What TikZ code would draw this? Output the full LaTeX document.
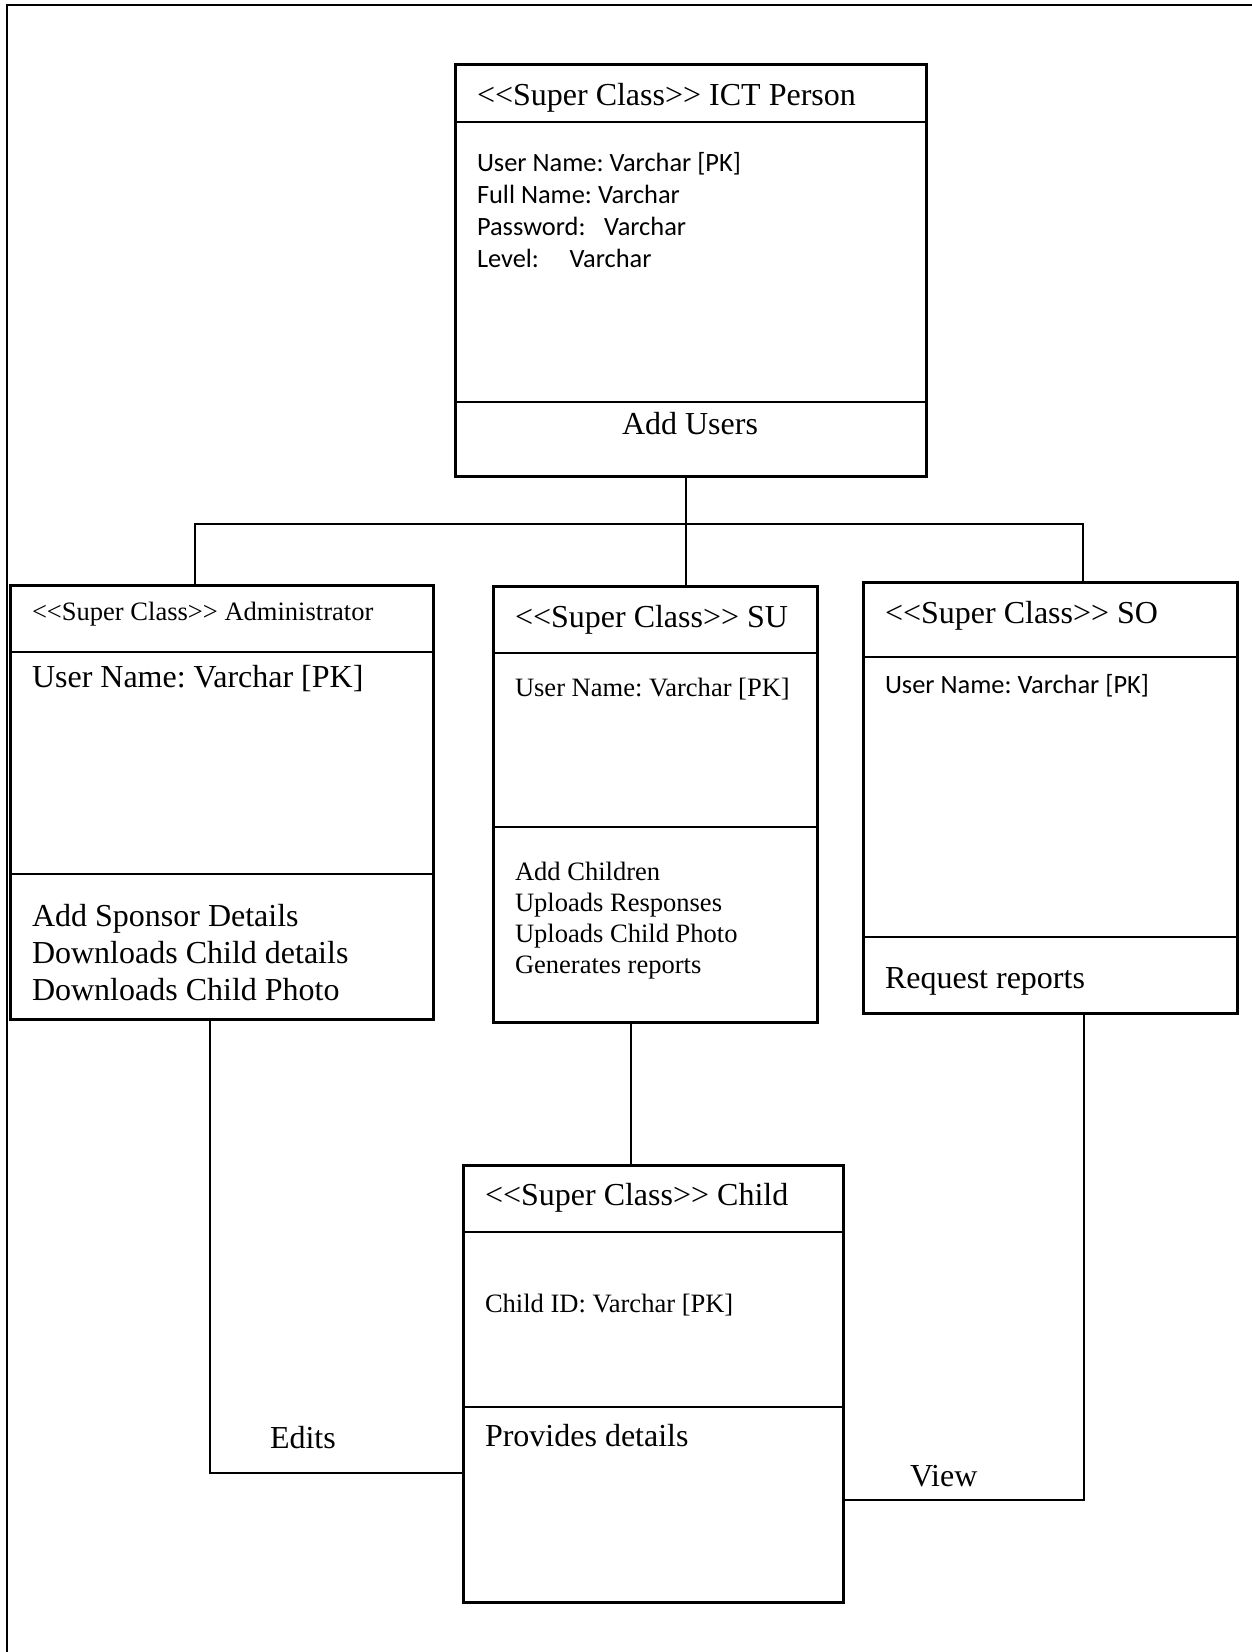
\documentclass[tikz,border=0pt]{standalone}
\usepackage{fontspec}
\setmainfont{Liberation Serif}
\newfontfamily\calibrifont{Carlito}
\usetikzlibrary{fit}
\frenchspacing
% stereotype marker, kerned so the pairs stay plain angle brackets
\newcommand\superclass{<\kern0pt<Super Class>\kern0pt>}
\begin{document}
\begin{tikzpicture}[x=0.75pt,y=-0.75pt,
  classbox/.style={draw, line width=2.25pt, inner sep=0pt, outer sep=0pt, rectangle},
  divider/.style={line width=1.9pt},
  link/.style={line width=1.4pt},
  txtbase/.style={anchor=base west, inner sep=0pt, outer sep=0pt},
  bigtxt/.style={txtbase, font=\fontsize{24}{28}\selectfont},
  smalltxt/.style={txtbase, font=\fontsize{19.9}{24}\selectfont},
  sanstxt/.style={txtbase, font=\calibrifont\fontsize{19.8}{24}\selectfont},
]
\useasboundingbox (0,0) rectangle (1252,1652);

% page frame
\draw[line width=1.5pt] (7,1652) -- (7,5) -- (1252,5);

% ---------- class boxes ----------
\node[classbox, fit={(455,65) (926,476)}] (ict) {};
\node[classbox, fit={(10,585) (433,1019)}] (adm) {};
\node[classbox, fit={(493,586) (817,1022)}] (su) {};
\node[classbox, fit={(863,582) (1237,1013)}] (so) {};
\node[classbox, fit={(463,1165) (843,1602)}] (child) {};

% compartment dividers
\draw[divider] (ict.west |- 0,122) -- (ict.east |- 0,122);
\draw[divider] (ict.west |- 0,402) -- (ict.east |- 0,402);
\draw[divider] (adm.west |- 0,652) -- (adm.east |- 0,652);
\draw[divider] (adm.west |- 0,874) -- (adm.east |- 0,874);
\draw[divider] (su.west |- 0,653) -- (su.east |- 0,653);
\draw[divider] (su.west |- 0,827) -- (su.east |- 0,827);
\draw[divider] (so.west |- 0,657) -- (so.east |- 0,657);
\draw[divider] (so.west |- 0,937) -- (so.east |- 0,937);
\draw[divider] (child.west |- 0,1232) -- (child.east |- 0,1232);
\draw[divider] (child.west |- 0,1407) -- (child.east |- 0,1407);

% ---------- ICT Person ----------
\node[bigtxt] (ict-title) at (477,105) {\superclass{} ICT Person};
\node[sanstxt] (ict-a1) at (477,171) {User Name: Varchar [PK]};
\node[sanstxt] (ict-a2) at (477,203) {Full Name: Varchar};
\node[sanstxt] (ict-a3) at (477,235) {Password:\hspace{14pt}Varchar};
\node[sanstxt] (ict-a4) at (477,267) {Level:\hspace{23pt}Varchar};
\node[bigtxt, anchor=base] (ict-m1) at (690,434) {Add Users};

% ---------- Administrator ----------
\node[smalltxt] (adm-title) at (32,620) {\superclass{} Administrator};
\node[bigtxt] (adm-a1) at (32,687) {User Name: Varchar [PK]};
\foreach \t [count=\i] in {Add Sponsor Details, Downloads Child details, Downloads Child Photo}
  \node[bigtxt] (adm-m\i) at (32,{926+37*(\i-1)}) {\t};

% ---------- SU ----------
\node[bigtxt] (su-title) at (515,627) {\superclass{} SU};
\node[smalltxt] (su-a1) at (515,696) {User Name: Varchar [PK]};
\foreach \t [count=\i] in {Add Children, Uploads Responses, Uploads Child Photo, Generates reports}
  \node[smalltxt] (su-m\i) at (515,{880+31*(\i-1)}) {\t};

% ---------- SO ----------
\node[bigtxt] (so-title) at (885,623) {\superclass{} SO};
\node[sanstxt] (so-a1) at (885,693) {User Name: Varchar [PK]};
\node[bigtxt] (so-m1) at (885,988) {Request reports};

% ---------- Child ----------
\node[bigtxt] (child-title) at (485,1205) {\superclass{} Child};
\node[smalltxt] (child-a1) at (485,1312) {Child ID: Varchar [PK]};
\node[bigtxt] (child-m1) at (485,1446) {Provides details};

% ---------- connectors ----------
\coordinate (busL) at (195,524);
\coordinate (busR) at (1083,524);
\coordinate (stem) at (686,0);
\draw[link] (busL |- adm.north) -- (busL) -- (busR) -- (busR |- so.north);
\draw[link] (stem |- ict.south) -- (stem |- su.north);

\coordinate (suc) at (631,0);
\draw[link] (suc |- su.south) -- (suc |- child.north);

\coordinate (editsBend) at (210,1473);
\draw[link] (editsBend |- adm.south) -- (editsBend) -- (editsBend -| child.west);
\node[bigtxt] (edits) at (270,1448) {Edits};

\coordinate (viewBend) at (1084,1500);
\draw[link] (viewBend |- so.south) -- (viewBend) -- (viewBend -| child.east);
\node[bigtxt] (view) at (910,1486) {View};
\end{tikzpicture}
\end{document}
